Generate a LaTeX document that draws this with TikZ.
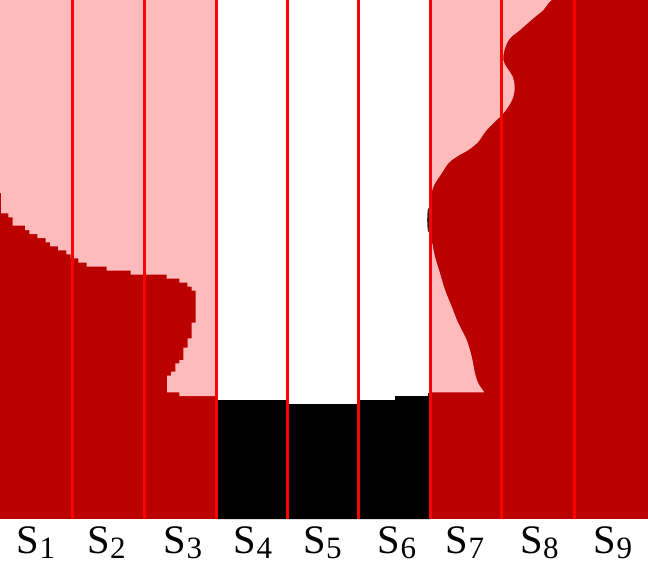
\documentclass[tikz,border=0pt]{standalone}
\usepackage{fontspec}
\setmainfont{Liberation Serif}
\definecolor{lpink}{RGB}{255,187,187}
\definecolor{dred}{RGB}{187,0,0}
\definecolor{sred}{RGB}{255,0,0}
\begin{document}
\begin{tikzpicture}[x=1pt,y=-1pt,
  lab/.style={anchor=base, inner sep=0pt, font=\fontsize{40.5}{40}\selectfont},
  sepline/.style={draw=sred, line width=3pt}]
\useasboundingbox (0,0) rectangle (648,570);
\fill[white] (0,0) rectangle (648,570);
% base dark red
\fill[dred] (0,0) rectangle (648,519);
% left pink region (staircase)
\fill[lpink] (0,0) -- (216.5,0) -- (216.5,396) -- (179.3,396) -- (179.3,392.3) -- (167,392.3) -- (167,375.7) -- (171,375.7) -- (171,371.7) -- (175.3,371.7) -- (175.3,363.3) -- (179.3,363.3) -- (179.3,360) -- (183.3,360) -- (183.3,347.7) -- (187.7,347.7) -- (187.7,338.3) -- (191.7,338.3) -- (191.7,322.7) -- (195.7,322.7) -- (195.7,290.7) -- (191.7,290.7) -- (191.7,286.7) -- (187.3,286.7) -- (187.3,282.7) -- (179.3,282.7) -- (179.3,278.7) -- (166.7,278.7) -- (166.7,274.7) -- (130.7,274.7) -- (130.7,270.7) -- (106.7,270.7) -- (106.7,266.7) -- (86.7,266.7) -- (86.7,262.7) -- (78.3,262.7) -- (78.3,258.3) -- (70.7,258.3) -- (70.7,254.3) -- (66.3,254.3) -- (66.3,250.3) -- (58,250.3) -- (58,246.3) -- (50,246.3) -- (50,242.3) -- (45.7,242.3) -- (45.7,238) -- (37.3,238) -- (37.3,234) -- (29.3,234) -- (29.3,230) -- (25,230) -- (25,225.7) -- (12.7,225.7) -- (12.7,217.3) -- (8.3,217.3) -- (8.3,213.3) -- (1,213.3) -- (1,193) -- (0,193) -- cycle;
% middle white and black
\fill[white] (216.5,0) rectangle (430.5,519);
\fill[black] (216.5,400) -- (288,400) -- (288,404) -- (358.5,404) -- (358.5,400) -- (395,400) -- (395,396) -- (428,396) -- (428,393) -- (430.5,393) -- (430.5,519) -- (216.5,519) -- cycle;
% right pink regions
\fill[lpink] (430.5,0) -- (551.7,0) -- plot[smooth, tension=0.6] coordinates {(551.7,0) (548.3,3.3) (543.3,10) (533.3,18.3) (520,30) (510,38.3) (505,48.3) (503.3,60) (507.3,68.3) (512.7,76.7) (514.7,86.7) (513.3,96.7) (508.3,106.7) (501.7,115) (486.7,130) (478.3,141.7) (468.3,150) (456.7,156.7) (448.3,163.3) (441.7,173.3) (435,183.3) (432.3,190)} -- (430.5,192) -- cycle;
\fill[lpink] (430.5,243) -- plot[smooth, tension=0.5] coordinates {(432.3,243.3) (435,256.7) (440,273.3) (445,290) (451.7,306.7) (458.3,323.3) (466.7,340) (471.7,356.7) (475,373.3) (478.3,383.3) (484.3,392.3)} -- (430.5,392.3) -- cycle;
% small dark blob
\fill[black!85] (428.6,220) ellipse (1.4 and 12);
% separator lines
\foreach \xx in {72,144.5,216.5,287,358.5,430.5,501.5,574}
  \draw[sepline] (\xx,0) -- (\xx,519);
% labels
\node[lab] (s1) at (36,553) {S\raisebox{-5pt}{\fontsize{31}{31}\selectfont 1}};
\node[lab] (s2) at (106.5,553) {S\raisebox{-5pt}{\fontsize{31}{31}\selectfont 2}};
\node[lab] (s3) at (183,553) {S\raisebox{-5pt}{\fontsize{31}{31}\selectfont 3}};
\node[lab] (s4) at (253,553) {S\raisebox{-5pt}{\fontsize{31}{31}\selectfont 4}};
\node[lab] (s5) at (322.5,553) {S\raisebox{-5pt}{\fontsize{31}{31}\selectfont 5}};
\node[lab] (s6) at (397,553) {S\raisebox{-5pt}{\fontsize{31}{31}\selectfont 6}};
\node[lab] (s7) at (465,553) {S\raisebox{-5pt}{\fontsize{31}{31}\selectfont 7}};
\node[lab] (s8) at (539.5,553) {S\raisebox{-5pt}{\fontsize{31}{31}\selectfont 8}};
\node[lab] (s9) at (613,553) {S\raisebox{-5pt}{\fontsize{31}{31}\selectfont 9}};
\end{tikzpicture}
\end{document}
